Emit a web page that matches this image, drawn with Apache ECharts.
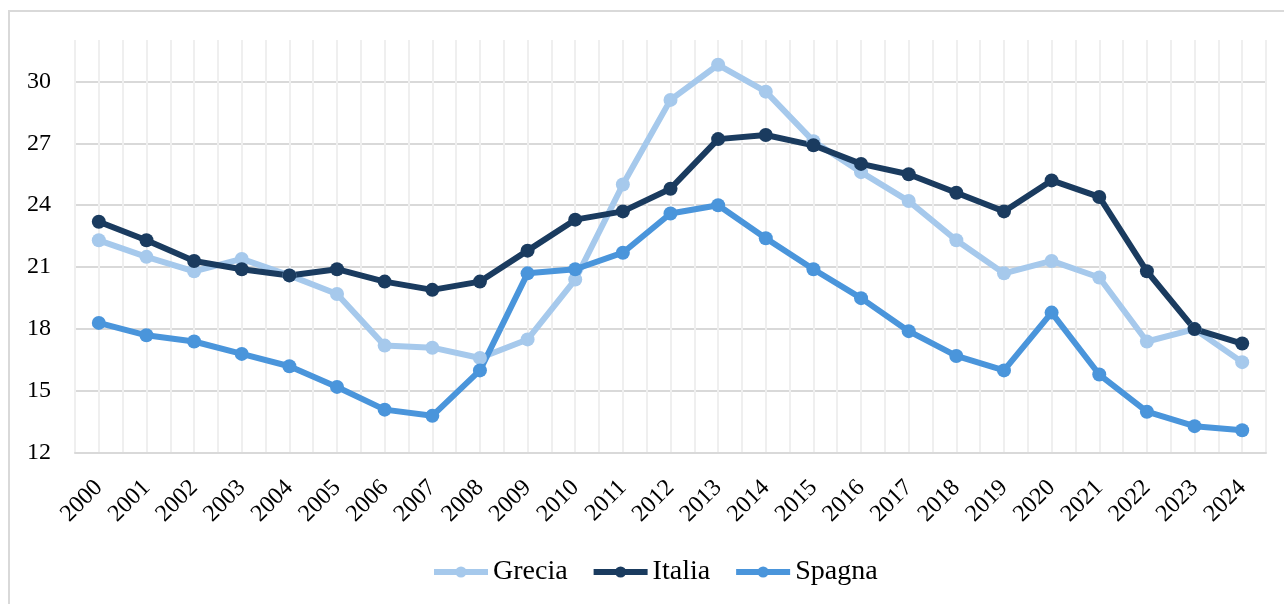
<!DOCTYPE html>
<html>
<head>
<meta charset="utf-8">
<script src="https://cdn.jsdelivr.net/npm/echarts@6/dist/echarts.min.js"></script>
<style>
  html, body { margin: 0; padding: 0; width: 1284px; height: 604px; overflow: hidden; background: #ffffff; }
  #frame { position: absolute; left: 8px; top: 10px; width: 1400px; height: 800px; border: 2px solid #d9d9d9; box-sizing: border-box; }
  #chart { position: absolute; left: 0; top: 0; width: 1284px; height: 604px; }
</style>
</head>
<body>
<div id="frame"></div>
<div id="chart"></div>
<script>
const years = ['2000','2001','2002','2003','2004','2005','2006','2007','2008','2009','2010','2011','2012','2013','2014','2015','2016','2017','2018','2019','2020','2021','2022','2023','2024'];
const grecia = [22.3, 21.5, 20.8, 21.4, 20.6, 19.7, 17.2, 17.1, 16.6, 17.5, 20.4, 25.0, 29.1, 30.8, 29.5, 27.1, 25.6, 24.2, 22.3, 20.7, 21.3, 20.5, 17.4, 18.0, 16.4];
const italia = [23.2, 22.3, 21.3, 20.9, 20.6, 20.9, 20.3, 19.9, 20.3, 21.8, 23.3, 23.7, 24.8, 27.2, 27.4, 26.9, 26.0, 25.5, 24.6, 23.7, 25.2, 24.4, 20.8, 18.0, 17.3];
const spagna = [18.3, 17.7, 17.4, 16.8, 16.2, 15.2, 14.1, 13.8, 16.0, 20.7, 20.9, 21.7, 23.6, 24.0, 22.4, 20.9, 19.5, 17.9, 16.7, 16.0, 18.8, 15.8, 14.0, 13.3, 13.1];
const seriesNames = ['Grecia', 'Italia', 'Spagna'];
const yTicks = { min: 12, max: 32, interval: 3 };

const colors = ['#a6c9ec', '#1a3b5f', '#4a95db'];
const FONT = '"Liberation Serif", "Times New Roman", serif';

const chart = echarts.init(document.getElementById('chart'), null, { renderer: 'canvas' });

function lineSeries(name, data, color) {
  return {
    name: name,
    type: 'line',
    xAxisIndex: 0,
    yAxisIndex: 0,
    data: data,
    smooth: false,
    symbol: 'circle',
    symbolSize: 14,
    showSymbol: true,
    lineStyle: { width: 6, color: color },
    itemStyle: { color: color },
    emphasis: { disabled: true },
    animation: false
  };
}

chart.setOption({
  backgroundColor: 'transparent',
  animation: false,
  grid: { left: 75, right: 18, top: 40, bottom: 151, containLabel: false },
  legend: {
    data: seriesNames,
    left: 426,
    top: 553,
    itemWidth: 54,
    itemHeight: 14,
    itemGap: 23,
    lineStyle: { width: 6 },
    textStyle: { fontFamily: FONT, fontSize: 28, color: '#000' }
  },
  xAxis: [
    {
      type: 'category',
      data: years,
      boundaryGap: true,
      axisLine: { show: true, lineStyle: { color: '#d9d9d9', width: 2 } },
      axisTick: { show: false },
      splitLine: { show: false },
      axisLabel: {
        rotate: 45,
        interval: 0,
        margin: 31,
        fontFamily: FONT,
        fontSize: 24,
        color: '#000'
      }
    },
    {
      type: 'value',
      min: 0,
      max: 50,
      interval: 1,
      position: 'top',
      show: true,
      axisLine: { show: false },
      axisTick: { show: false },
      axisLabel: { show: false },
      splitLine: { show: true, lineStyle: { color: '#efefef', width: 2 } }
    }
  ],
  yAxis: {
    type: 'value',
    min: yTicks.min,
    max: yTicks.max,
    interval: yTicks.interval,
    axisLine: { show: false },
    axisTick: { show: false },
    axisLabel: {
      margin: 24,
      showMaxLabel: false,
      fontFamily: FONT,
      fontSize: 24,
      color: '#000'
    },
    splitLine: {
      show: true,
      lineStyle: {
        color: ['rgba(0,0,0,0)', '#d9d9d9', '#d9d9d9', '#d9d9d9', '#d9d9d9', '#d9d9d9', '#d9d9d9', 'rgba(0,0,0,0)'],
        width: 2
      }
    }
  },
  series: [
    lineSeries(seriesNames[0], grecia, colors[0]),
    lineSeries(seriesNames[1], italia, colors[1]),
    lineSeries(seriesNames[2], spagna, colors[2])
  ]
});
</script>
</body>
</html>
